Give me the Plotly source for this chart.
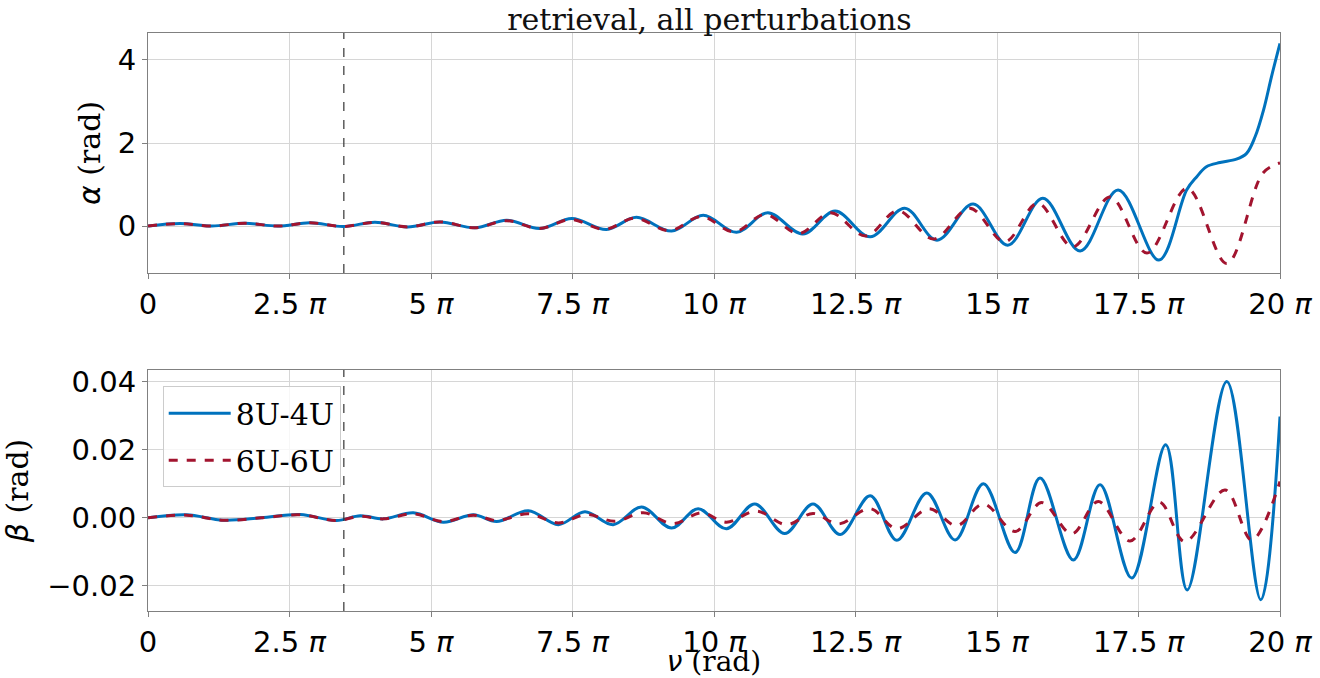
import plotly.graph_objects as go
from plotly.subplots import make_subplots

# ---- data (x in units of pi) ----
alpha_84_nu = [0, 0.57, 1.13, 1.71, 2.30, 2.86, 3.45, 4.01, 4.59, 5.16, 5.78, 6.34, 6.92,
               7.49, 8.10, 8.63, 9.25, 9.81, 10.40, 10.95, 11.57, 12.14, 12.76, 13.37, 13.94,
               14.58, 15.19, 15.81, 16.47, 17.14, 17.86, 18.35, 18.53, 18.70, 18.94, 19.23,
               19.41, 19.56, 19.71, 19.85, 20.0]
alpha_84 = [0, 0.06, 0.0, 0.07, 0.0, 0.08, -0.01, 0.09, -0.02, 0.10, -0.04, 0.14, -0.06,
            0.18, -0.08, 0.21, -0.12, 0.26, -0.15, 0.32, -0.19, 0.36, -0.26, 0.43, -0.34,
            0.53, -0.46, 0.67, -0.60, 0.87, -0.82, 0.87, 1.19, 1.43, 1.53, 1.61,
            1.75, 2.15, 2.80, 3.60, 4.40]

alpha_66_nu = [0, 0.57, 1.13, 1.71, 2.30, 2.86, 3.45, 4.01, 4.59, 5.16, 5.78, 6.34, 6.92,
               7.47, 8.07, 8.60, 9.22, 9.77, 10.36, 10.90, 11.50, 12.06, 12.68, 13.25, 13.88,
               14.52, 15.14, 15.72, 16.34, 17.00, 17.65, 18.36, 19.06, 19.70, 20.0]
alpha_66 = [0, 0.06, 0.0, 0.07, 0.0, 0.08, -0.01, 0.09, -0.02, 0.10, -0.04, 0.13, -0.06,
            0.16, -0.08, 0.19, -0.11, 0.23, -0.14, 0.28, -0.18, 0.32, -0.24, 0.37, -0.31,
            0.43, -0.38, 0.55, -0.50, 0.70, -0.65, 0.91, -0.90, 1.28, 1.52]

beta_84_nu = [0, 0.68, 1.33, 2.0, 2.69, 3.33, 3.75, 4.16, 4.69, 5.22, 5.75, 6.16, 6.72,
              7.25, 7.72, 8.22, 8.72, 9.25, 9.72, 10.22, 10.72, 11.25, 11.75, 12.23, 12.76,
              13.23, 13.76, 14.26, 14.76, 15.32, 15.76, 16.35, 16.82, 17.38, 17.98, 18.36,
              19.06, 19.66, 20.0]
beta_84 = [0, 0.0009, -0.0007, 0.0, 0.0010, -0.0008, 0.0006, -0.0003, 0.0015, -0.0013, 0.0009,
           -0.0011, 0.0021, -0.0020, 0.0018, -0.0020, 0.0032, -0.0030, 0.0027, -0.0032, 0.0041,
           -0.0046, 0.0041, -0.0049, 0.0065, -0.0066, 0.0073, -0.0065, 0.0100, -0.0102, 0.0117,
           -0.0124, 0.0097, -0.0177, 0.0215, -0.0212, 0.0401, -0.0241, 0.0298]

beta_66_nu = [0, 0.68, 1.33, 2.0, 2.69, 3.33, 3.75, 4.16, 4.69, 5.22, 5.75, 6.16, 6.72,
              7.25, 7.75, 8.25, 8.75, 9.28, 9.78, 10.22, 10.75, 11.28, 11.75, 12.20, 12.76,
              13.23, 13.80, 14.29, 14.76, 15.32, 15.79, 16.32, 16.79, 17.35, 17.87, 18.32,
              19.03, 19.50, 20.0]
beta_66 = [0, 0.0008, -0.0007, 0.0, 0.0009, -0.0008, 0.0005, -0.0003, 0.0012, -0.0011, 0.0008,
           -0.0008, 0.0012, -0.0015, 0.0010, -0.0010, 0.0015, -0.0017, 0.0015, -0.0013, 0.0020,
           -0.0020, 0.0013, -0.0018, 0.0027, -0.0032, 0.0027, -0.0023, 0.0041, -0.0040, 0.0045,
           -0.0047, 0.0048, -0.0068, 0.0046, -0.0070, 0.0082, -0.0065, 0.0107]

nu_marker = 3.46
x_tickvals = [0, 2.5, 5, 7.5, 10, 12.5, 15, 17.5, 20]
x_ticktext = ["0", "2.5 <i>π</i>", "5 <i>π</i>", "7.5 <i>π</i>", "10 <i>π</i>",
              "12.5 <i>π</i>", "15 <i>π</i>", "17.5 <i>π</i>", "20 <i>π</i>"]
alpha_ticks = [0, 2, 4]
beta_ticks = [-0.02, 0.0, 0.02, 0.04]
beta_ticktext = ["−0.02", "0.00", "0.02", "0.04"]

BLUE = "#0072BD"
RED = "#A2142F"
SANS = "DejaVu Sans"
SERIF = "DejaVu Serif"
FS_TICK = 29
FS_SERIF = 30

fig = make_subplots(rows=2, cols=1, vertical_spacing=0.168)

fig.add_trace(go.Scatter(x=alpha_84_nu, y=alpha_84, mode="lines", name="8U-4U",
                         line=dict(color=BLUE, width=3, shape="spline", smoothing=1.0),
                         showlegend=False), row=1, col=1)
fig.add_trace(go.Scatter(x=alpha_66_nu, y=alpha_66, mode="lines", name="6U-6U",
                         line=dict(color=RED, width=3, dash="dash", shape="spline", smoothing=1.0),
                         showlegend=False), row=1, col=1)
fig.add_trace(go.Scatter(x=beta_84_nu, y=beta_84, mode="lines", name="8U-4U", legendgroup="a",
                         line=dict(color=BLUE, width=3, shape="spline", smoothing=1.0)),
              row=2, col=1)
fig.add_trace(go.Scatter(x=beta_66_nu, y=beta_66, mode="lines", name="6U-6U", legendgroup="b",
                         line=dict(color=RED, width=3, dash="dash", shape="spline", smoothing=1.0)),
              row=2, col=1)

for xa, ya in [("x", "y"), ("x2", "y2")]:
    fig.add_shape(type="line", xref=xa, yref=ya + " domain", x0=nu_marker, x1=nu_marker,
                  y0=0, y1=1, line=dict(color="#333333", width=1.2, dash="dash"))

axis_common = dict(showgrid=True, gridcolor="#d6d6d6", gridwidth=1, showline=True,
                   linecolor="#808080", linewidth=1.2, mirror=True, ticks="outside",
                   ticklen=5, tickcolor="#808080", zeroline=False, automargin=False,
                   tickfont=dict(family=SANS, size=FS_TICK, color="black"))

fig.update_xaxes(range=[0, 20], tickvals=x_tickvals, ticktext=x_ticktext, **axis_common)
fig.update_xaxes(title=dict(text="<span style=\"font-family:'DejaVu Sans'\"><i>ν</i></span> (rad)",
                            font=dict(family=SERIF, size=FS_SERIF - 2, color="black"), standoff=3),
                 row=2, col=1)
fig.update_yaxes(range=[-1.13, 4.65], tickvals=alpha_ticks, ticktext=["0", "2", "4"],
                 title=dict(text="<span style=\"font-family:'DejaVu Sans'\"><i>α</i></span> (rad)",
                            font=dict(family=SERIF, size=FS_SERIF, color="black"), standoff=8),
                 row=1, col=1, **axis_common)
fig.update_yaxes(range=[-0.0274, 0.0435], tickvals=beta_ticks, ticktext=beta_ticktext,
                 title=dict(text="<span style=\"font-family:'DejaVu Sans'\"><i>β</i></span> (rad)",
                            font=dict(family=SERIF, size=FS_SERIF, color="black"), standoff=12),
                 row=2, col=1, **axis_common)

fig.update_layout(
    width=1320, height=678,
    margin=dict(l=148, r=40, t=33, b=67),
    paper_bgcolor="white", plot_bgcolor="white",
    title=dict(text="retrieval, all perturbations", x=0.5375, xanchor="center",
               y=0.9715, yanchor="middle", font=dict(family=SERIF, size=FS_SERIF, color="#111111")),
    legend=dict(x=0.013, y=0.389, xanchor="left", yanchor="top",
                bgcolor="rgba(255,255,255,0.8)", bordercolor="#cccccc", borderwidth=1,
                tracegroupgap=5, itemwidth=62,
                font=dict(family=SERIF, size=FS_SERIF, color="black")),
)

fig.update_layout(yaxis=dict(domain=[0.5848, 1.0]), yaxis2=dict(domain=[0.0, 0.417]))

fig.write_html("out.html", config={"displayModeBar": False},
               post_script="document.body.style.margin='0px';")
